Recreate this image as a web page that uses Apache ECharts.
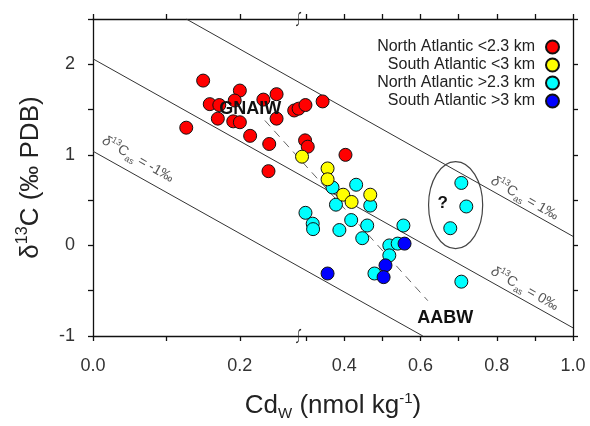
<!DOCTYPE html>
<html>
<head>
<meta charset="utf-8">
<script src="https://cdn.jsdelivr.net/npm/echarts@6/dist/echarts.min.js"></script>
<style>
html, body { margin: 0; padding: 0; background: #fff; }
#chart { width: 590px; height: 426px; }
</style>
</head>
<body>
<div id="chart"></div>
<script>
// Cd_W (nmol/kg), d13C (permil PDB)
var northShallow = [[0.150, 1.82], [0.200, 1.71], [0.193, 1.60], [0.232, 1.61], [0.250, 1.67],
    [0.159, 1.56], [0.172, 1.55], [0.170, 1.40], [0.191, 1.37], [0.200, 1.36], [0.250, 1.40],
    [0.127, 1.30], [0.214, 1.21], [0.240, 1.12], [0.274, 1.49], [0.280, 1.51], [0.298, 1.55],
    [0.343, 1.59], [0.239, 0.82], [0.297, 1.16], [0.304, 1.09], [0.403, 1.00]];
var southShallow = [[0.289, 0.98], [0.356, 0.85], [0.356, 0.73], [0.397, 0.56], [0.419, 0.48], [0.468, 0.56]];
var northDeep = [[0.369, 0.64], [0.431, 0.67], [0.378, 0.45], [0.468, 0.44], [0.298, 0.36],
    [0.317, 0.24], [0.318, 0.18], [0.418, 0.28], [0.460, 0.22], [0.387, 0.17], [0.555, 0.22],
    [0.447, 0.08], [0.518, 0.00], [0.540, 0.02], [0.518, -0.11], [0.479, -0.31],
    [0.707, 0.69], [0.720, 0.43], [0.678, 0.19], [0.707, -0.40]];
var southDeep = [[0.558, 0.02], [0.508, -0.22], [0.503, -0.35], [0.356, -0.31]];

var seriesNames = ['North Atlantic <2.3 km', 'South Atlantic <3 km', 'North Atlantic >2.3 km', 'South Atlantic >3 km'];
var seriesColors = ['#ff0000', '#ffff00', '#00ffff', '#0000ff'];

// lines of constant d13C_as, and the GNAIW-AABW mixing line
var lineAsPlus1 = [[0.127, 2.5], [1.0, 0.10]];
var lineAs0 = [[0, 2.06], [1.0, -0.91]];
var lineAsMinus1 = [[0, 1.04], [0.606, -1]];
var mixingLine = [[0.234, 1.38], [0.619, -0.61]];

var xTicks = [0, 0.1, 0.2, 0.3, 0.4, 0.5, 0.6, 0.7, 0.8, 0.9, 1.0];
var xLabels = [0, 0.2, 0.4, 0.6, 0.8, 1.0];

// x axis is broken at 0.28: right part is compressed
var BREAK = 0.28;
var RIGHT_SCALE = 0.519;
function toAxis(cd) { return cd <= BREAK ? cd : BREAK + (cd - BREAK) * RIGHT_SCALE; }
function fromAxis(v) { return v <= BREAK ? v : BREAK + (v - BREAK) / RIGHT_SCALE; }
function conv(pts) { return pts.map(function (p) { return [toAxis(p[0]), p[1]]; }); }

var FONT = 'Liberation Sans, Arial, sans-serif';
var chart = echarts.init(document.getElementById('chart'));

function asLabel(val) {
    return '{i|δ}{sup|13}{n|C}{sub|as}{n| = ' + val + '‰}';
}
var asRich = {
    i: { fontStyle: 'italic', fontSize: 14, color: '#555', fontFamily: FONT, lineHeight: 19, verticalAlign: 'middle' },
    n: { fontSize: 14, color: '#555', fontFamily: FONT, lineHeight: 19, verticalAlign: 'middle' },
    sup: { fontSize: 9, color: '#555', fontFamily: FONT, lineHeight: 19, verticalAlign: 'top' },
    sub: { fontSize: 9, color: '#555', fontFamily: FONT, lineHeight: 19, verticalAlign: 'bottom' }
};

var axisLineStyle = { onZero: false, lineStyle: { color: '#111', width: 1.3 } };
var xAxisBase = {
    type: 'value', min: 0, max: toAxis(1.0),
    axisLine: axisLineStyle,
    axisTick: { length: 5, lineStyle: { color: '#111', width: 1.3 }, customValues: xTicks.map(toAxis) },
    splitLine: { show: false }
};

var series = [];
function addLine(pts, dashed) {
    series.push({
        type: 'line', data: conv(pts), symbol: 'none', silent: true, z: 1,
        lineStyle: { color: dashed ? '#666' : '#333', width: 1, type: dashed ? [8, 6] : 'solid' }
    });
}
addLine(lineAsPlus1);
addLine(lineAs0);
addLine(lineAsMinus1);
addLine(mixingLine, true);

// ellipse around the "?" points
series.push({
    type: 'custom', silent: true, z: 2,
    renderItem: function (params, api) {
        var c = api.coord([api.value(0), api.value(1)]);
        var s = api.size([api.value(2), api.value(3)]);
        return {
            type: 'ellipse',
            shape: { cx: c[0], cy: c[1], rx: s[0], ry: s[1] },
            style: { fill: 'none', stroke: '#444', lineWidth: 1.2 }
        };
    },
    data: [[toAxis(0.692), 0.445, 0.071 * RIGHT_SCALE, 0.48]]
});

var groups = [northDeep, northShallow, southShallow, southDeep];
var groupIdx = [2, 0, 1, 3];
groups.forEach(function (g, k) {
    var i = groupIdx[k];
    series.push({
        name: seriesNames[i], type: 'scatter', data: conv(g), symbolSize: 13, z: 3,
        itemStyle: { color: seriesColors[i], borderColor: '#111', borderWidth: 1, opacity: 1 }
    });
});

// axis break marks
series.push({
    type: 'scatter', silent: true, z: 4, clip: false,
    symbol: 'path://M7,0 C3,0 4,6 4,9 C4,12 5,18 1,18', symbolSize: [5, 13],
    itemStyle: { color: 'none', borderColor: '#222', borderWidth: 1, opacity: 1 },
    data: [[toAxis(BREAK), 2.5], [toAxis(BREAK), -1]]
});

// text annotations
series.push({
    type: 'scatter', silent: true, z: 5, symbolSize: 0,
    itemStyle: { opacity: 1 },
    label: { show: true, position: 'inside', fontFamily: FONT },
    data: [
        { value: [toAxis(0.214), 1.51], label: { formatter: 'GNAIW', fontSize: 18, fontWeight: 'bold', color: '#111' } },
        { value: [toAxis(0.665), -0.80], label: { formatter: 'AABW', fontSize: 18, fontWeight: 'bold', color: '#111' } },
        { value: [toAxis(0.658), 0.47], label: { formatter: '?', fontSize: 17, fontWeight: 'bold', color: '#111' } },
        { value: [toAxis(0.873), 0.52], label: { formatter: asLabel('1'), rich: asRich, rotate: -29.5 } },
        { value: [toAxis(0.873), -0.48], label: { formatter: asLabel('0'), rich: asRich, rotate: -29.5 } },
        { value: [toAxis(0.061), 0.95], label: { formatter: asLabel('-1'), rich: asRich, rotate: -29.5 } }
    ]
});

var legends = seriesNames.map(function (name, i) {
    return {
        data: [name], right: 25, top: 34 + i * 18, align: 'right', icon: 'circle',
        itemWidth: 13, itemHeight: 13, selectedMode: false,
        textStyle: { fontSize: 16, color: '#222', fontFamily: FONT, padding: [0, 6, 0, 0] }
    };
});

var option = {
    animation: false,
    backgroundColor: '#fff',
    textStyle: { fontFamily: FONT },
    grid: { left: 93, right: 17, top: 19, bottom: 86 },
    legend: legends,
    xAxis: [
        Object.assign({}, xAxisBase, {
            position: 'bottom',
            name: '{n|Cd}{sub|W}{n| (nmol kg}{sup|-1}{n|)}',
            nameLocation: 'middle', nameGap: 55,
            nameTextStyle: {
                rich: {
                    n: { fontSize: 26, color: '#222', fontFamily: FONT, lineHeight: 30, verticalAlign: 'middle' },
                    sub: { fontSize: 15, color: '#222', fontFamily: FONT, lineHeight: 30, verticalAlign: 'bottom' },
                    sup: { fontSize: 15, color: '#222', fontFamily: FONT, lineHeight: 30, verticalAlign: 'top' }
                }
            },
            axisLabel: {
                customValues: xLabels.map(toAxis), margin: 21, fontSize: 18, color: '#333', fontFamily: FONT,
                formatter: function (v) { return fromAxis(v).toFixed(1); }
            }
        }),
        Object.assign({}, xAxisBase, { position: 'top', axisLabel: { show: false } })
    ],
    yAxis: [
        {
            type: 'value', min: -1, max: 2.5, interval: 0.5, position: 'left',
            name: '{n|δ}{sup|13}{n|C (‰ PDB)}',
            nameLocation: 'middle', nameGap: 46,
            nameTextStyle: {
                rich: {
                    n: { fontSize: 26, color: '#222', fontFamily: FONT, lineHeight: 32, verticalAlign: 'middle' },
                    sup: { fontSize: 16, color: '#222', fontFamily: FONT, lineHeight: 32, verticalAlign: 'top' }
                }
            },
            axisLine: axisLineStyle,
            axisTick: { length: 5, lineStyle: { color: '#111', width: 1.3 } },
            axisLabel: {
                margin: 18, fontSize: 18, color: '#333', fontFamily: FONT,
                formatter: function (v) { return v % 1 === 0 ? String(v) : ''; }
            },
            splitLine: { show: false }
        },
        {
            type: 'value', min: -1, max: 2.5, interval: 0.5, position: 'right',
            axisLine: axisLineStyle,
            axisTick: { length: 5, lineStyle: { color: '#111', width: 1.3 } },
            axisLabel: { show: false },
            splitLine: { show: false }
        }
    ],
    series: series
};
chart.setOption(option);
</script>
</body>
</html>
